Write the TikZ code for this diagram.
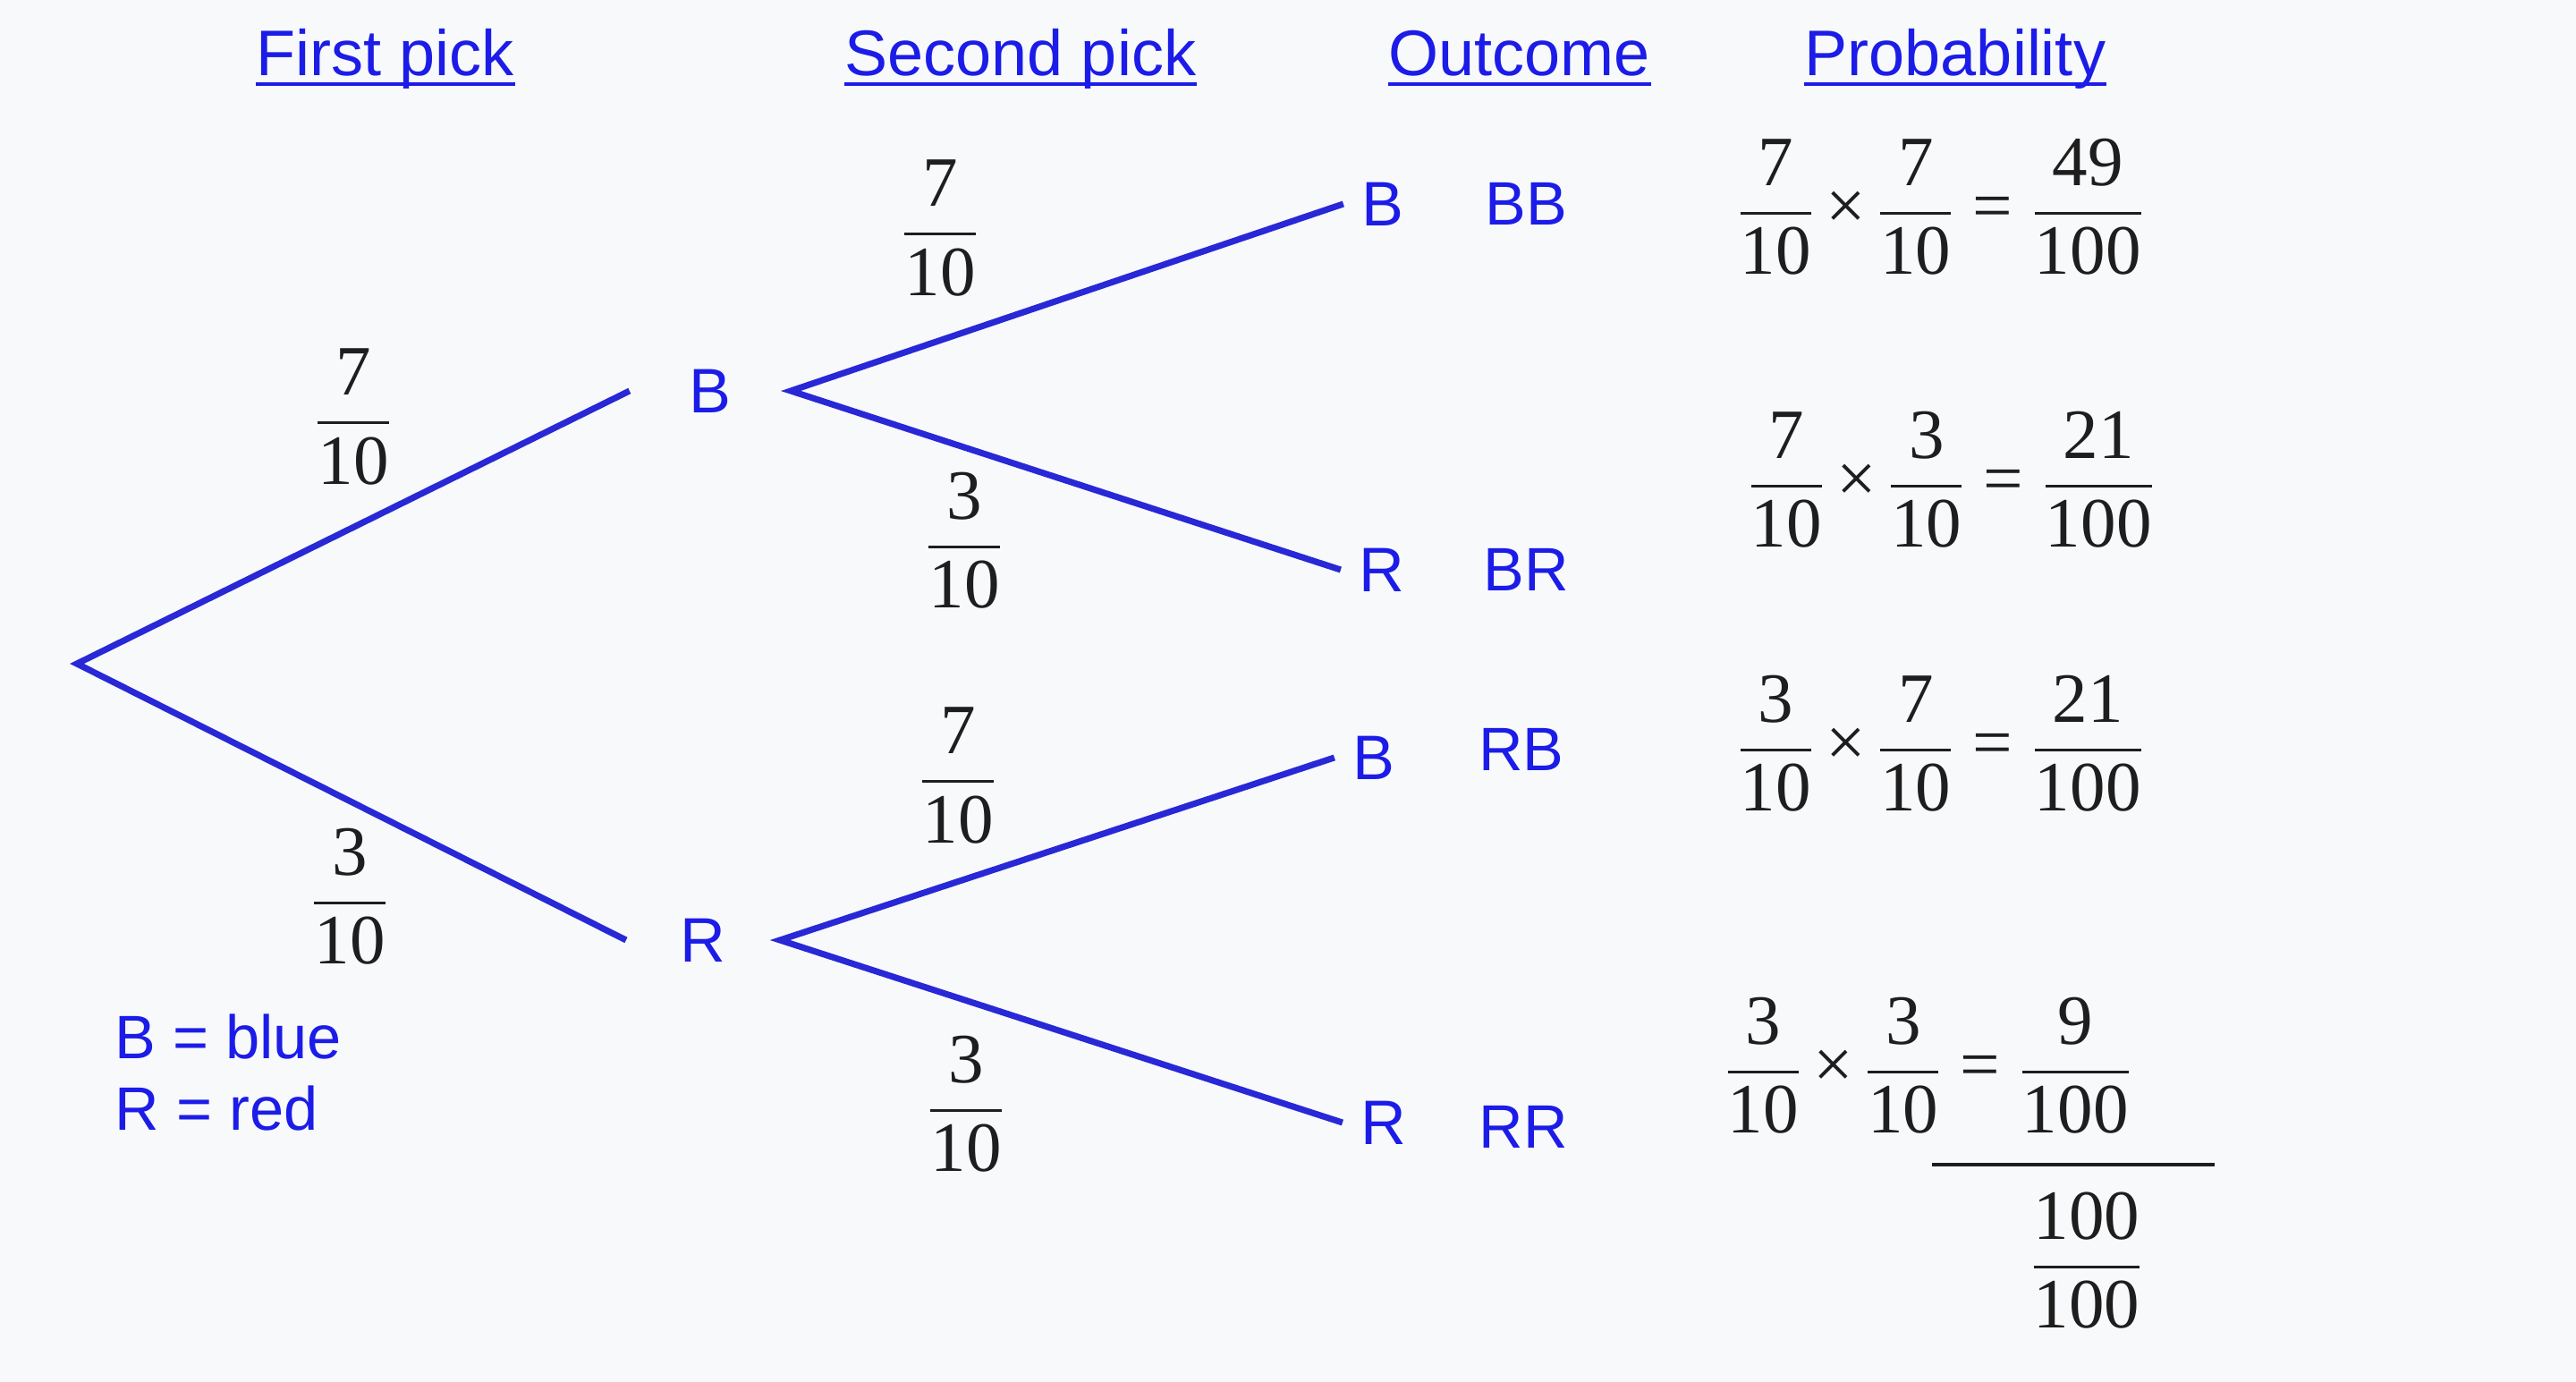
\documentclass[tikz,border=0pt]{standalone}
\usepackage{amsmath}
\usepackage{fontspec}
\setmainfont{Liberation Serif}
\setsansfont{Liberation Sans}
\usetikzlibrary{positioning, calc}
\definecolor{pickblue}{RGB}{28,28,232}
\definecolor{branchblue}{RGB}{40,40,215}
\definecolor{numgray}{RGB}{30,30,30}
\definecolor{paper}{RGB}{248,249,251}
\newcommand{\pf}[2]{\dfrac{\text{#1}}{\text{#2}}}
\newcommand{\probfrac}[2]{$\pf{#1}{#2}$}
\newcommand{\tms}{\,\mathord{\text{×}}\,}
\newcommand{\eqs}{\mathrel{\text{=}}}

\begin{document}
\begin{tikzpicture}[
        heading/.style={font=\sffamily\fontsize{20.5}{24}\selectfont, text=pickblue, inner sep=0pt, anchor=base west},
        keytext/.style={heading, font=\sffamily\fontsize{19.5}{23}\selectfont},
        pick/.style={font=\sffamily\fontsize{20}{24}\selectfont, text=pickblue, inner ysep=0pt, inner xsep=0.66cm},
        leaf/.style={pick, inner xsep=0.2cm},
        outcome/.style={font=\sffamily\fontsize{19.5}{23}\selectfont, text=pickblue, inner sep=0pt},
        prob/.style={font=\fontsize{22.5}{27}\selectfont, text=numgray, inner sep=0pt},
        branch/.style={draw=branchblue, line width=2pt},
        uline/.style={draw=pickblue, line width=1.1pt}
    ]
        \fill[paper] (0,0) rectangle (28.80,-15.45);
        \useasboundingbox (0,0) rectangle (28.80,-15.45);

        % Headings
        \node (h1) [heading] at (2.86,-0.85) {First pick};
        \node (h2) [heading] at (9.44,-0.85) {Second pick};
        \node (h3) [heading] at (15.52,-0.85) {Outcome};
        \node (h4) [heading] at (20.17,-0.85) {Probability};
        \foreach \h in {h1,h2,h3,h4}
            \draw [uline] ([yshift=-0.09cm]\h.base west) -- ([yshift=-0.09cm]\h.base east);

        % Picks
        \coordinate (root) at (0.86,-7.42);
        \node (b1) [pick] at (7.94,-4.37) {B};
        \node (r1) [pick, inner xsep=0.6cm] at (7.86,-10.51) {R};
        \node (bb) [leaf] at (15.46,-2.28) {B};
        \node (br) [leaf] at (15.45,-6.37) {R};
        \node (rb) [leaf] at (15.36,-8.47) {B};
        \node (rr) [leaf] at (15.47,-12.55) {R};

        % Outcomes
        \node (oBB) [outcome] at (17.06,-2.28) {BB};
        \node (oBR) [outcome] at (17.06,-6.37) {BR};
        \node (oRB) [outcome] at (17.01,-8.38) {RB};
        \node (oRR) [outcome] at (17.03,-12.60) {RR};

        % Branches
        \draw [branch] (b1.west) -- (root) -- (r1.west);
        \draw [branch] (bb.west) -- (b1.east) -- (br.west);
        \draw [branch] (rb.west) -- (r1.east) -- (rr.west);

        % Branch probabilities
        \node (pB) [prob] at (3.95,-4.66) {\probfrac{7}{10}};
        \node (pR) [prob] at (3.91,-10.02) {\probfrac{3}{10}};
        \node (pBB) [prob] at (10.51,-2.55) {\probfrac{7}{10}};
        \node (pBR) [prob] at (10.78,-6.04) {\probfrac{3}{10}};
        \node (pRB) [prob] at (10.71,-8.67) {\probfrac{7}{10}};
        \node (pRR) [prob] at (10.80,-12.34) {\probfrac{3}{10}};

        % Probability column
        \node (prBB) [prob, anchor=west] at (19.41,-2.31) {$\pf{7}{10}\tms\pf{7}{10}\eqs\pf{49}{100}$};
        \node (prBR) [prob, anchor=west] at (19.53,-5.36) {$\pf{7}{10}\tms\pf{3}{10}\eqs\pf{21}{100}$};
        \node (prRB) [prob, anchor=west] at (19.41,-8.31) {$\pf{3}{10}\tms\pf{7}{10}\eqs\pf{21}{100}$};
        \node (prRR) [prob, anchor=west] at (19.27,-11.91) {$\pf{3}{10}\tms\pf{3}{10}\eqs\pf{9}{100}$};
        \draw [numgray, line width=0.9pt] (21.60,-13.02) -- (24.76,-13.02);
        \node (prAll) [prob] at (23.33,-14.09) {\probfrac{100}{100}};

        % Key
        \node (key1) [keytext] at (1.28,-11.83) {B = blue};
        \node (key2) [keytext] at (1.28,-12.63) {R = red};
    \end{tikzpicture}
\end{document}
